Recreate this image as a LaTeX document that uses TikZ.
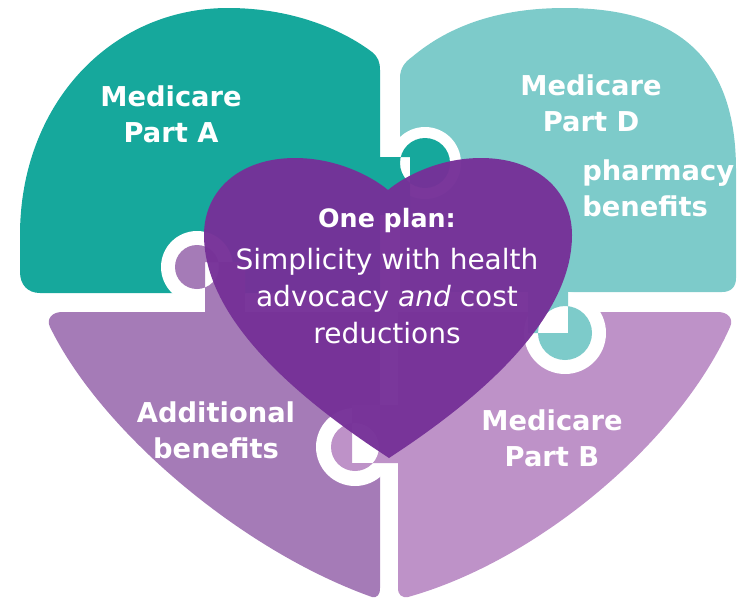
\documentclass[tikz,border=0pt]{standalone}
\usepackage{fontspec}
\setmainfont{DejaVu Sans}
\usetikzlibrary{positioning}
\definecolor{tealdark}{HTML}{16A89C}
\definecolor{teallight}{HTML}{7DCBCA}
\definecolor{plumleft}{HTML}{A57BB7}
\definecolor{plumright}{HTML}{BE92C8}
\definecolor{plumheart}{HTML}{763198}
\begin{document}
\begin{tikzpicture}[x=0.75pt,y=-0.75pt,
    piecetext/.style={text=white,font=\fontsize{20.5}{27}\selectfont\bfseries,align=center,inner sep=0pt},
    hearttext/.style={text=white,font=\fontsize{21}{27.5}\selectfont,align=center,inner sep=0pt}]
    \useasboundingbox (0,0) rectangle (738,600);

    \fill[teallight] (400,78) .. controls (400,68) and (405,62) .. (412,57) .. controls (450,25) and (500,8) .. (565,8)
        .. controls (680,8) and (736,60) .. (736,170) -- (736,278) .. controls (736,287) and (731,292) .. (722,292) -- (400,292) -- cycle;
    \fill[plumright] (398,312) -- (718,312) .. controls (728,312) and (734,319) .. (730,327)
        .. controls (680,440) and (540,560) .. (408,597) .. controls (402,598) and (398,595) .. (398,588) -- cycle;
    \fill[plumleft] (380,312) -- (62,312) .. controls (52,312) and (46,319) .. (50,327)
        .. controls (100,430) and (240,550) .. (372,597) .. controls (377,598) and (380,595) .. (380,588) -- cycle;
    \fill[tealdark] (380,70) -- (380,293) -- (40,293) .. controls (28,293) and (20,285) .. (20,272) -- (20,235)
        .. controls (20,105) and (110,8) .. (228,8) .. controls (290,8) and (340,28) .. (372,52) .. controls (378,57) and (380,62) .. (380,70) -- cycle;

    \fill[white] (425,163) circle[radius=36];
    \fill[tealdark] (425,163) circle[radius=25] (376,157) rectangle (410,215);
    \fill[white] (565,333) circle[radius=41];
    \fill[teallight] (565,333) circle[radius=27] (528,280) rectangle (568,333);
    \fill[white] (355,447) circle[radius=39];
    \fill[plumright] (355,447) circle[radius=24] (352,405) rectangle (404,463);
    \fill[white] (197,267) circle[radius=36];
    \fill[plumleft] (197,267) circle[radius=22] (205,262) rectangle (245,316);

    \fill[plumheart,fill opacity=0.97] (389,458) .. controls (300,400) and (204,320) .. (204,235)
        .. controls (204,190) and (240,158) .. (295,158) .. controls (335,158) and (370,175) .. (388,190)
        .. controls (406,175) and (441,158) .. (481,158) .. controls (536,158) and (572,190) .. (572,235)
        .. controls (572,320) and (478,400) .. (389,458) -- cycle;

    \node[piecetext] (partA) at (171,114) {Medicare\\Part A};
    \node[piecetext] (partD) at (591,103) {Medicare\\Part D};
    \node[piecetext,align=left,anchor=west] (pharmacy) at (582,188) {pharmacy\\benefits};
    \node[piecetext] (extra) at (216,430) {Additional\\benefits};
    \node[piecetext] (partB) at (552,438) {Medicare\\Part B};
    \node[piecetext,font=\fontsize{19}{27}\selectfont\bfseries] (oneplan) at (387,221) {One plan:};
    \node[hearttext,below=11pt of oneplan] (simplicity) {Simplicity with health\\advocacy \textit{and} cost\\reductions};
\end{tikzpicture}
\end{document}
